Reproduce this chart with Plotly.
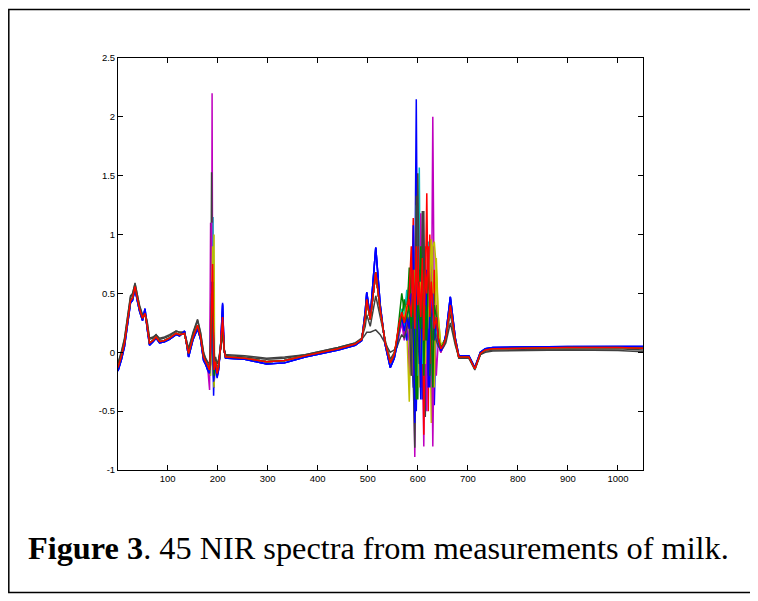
import plotly.graph_objects as go

# ---------------- data ----------------
X_LEFT = [1, 5, 8, 14, 20, 26, 30, 35, 39, 44, 50, 55, 59, 64, 71, 77, 84, 94,
          104, 117, 124, 134, 142, 151, 160, 166, 172]
LEFT = {
    "M": [-0.13, -0.08, -0.03, 0.08, 0.25, 0.44, 0.46, 0.56, 0.47, 0.37, 0.29, 0.33, 0.23,
          0.08, 0.10, 0.13, 0.09, 0.10, 0.12, 0.16, 0.15, 0.16, -0.01, 0.13, 0.23, 0.13, -0.04],
    "L": [-0.16, -0.11, -0.06, 0.05, 0.22, 0.42, 0.44, 0.54, 0.45, 0.35, 0.27, 0.37, 0.21,
          0.06, 0.09, 0.12, 0.08, 0.09, 0.11, 0.15, 0.14, 0.18, -0.04, 0.11, 0.20, 0.11, -0.07],
    "H": [-0.10, -0.05, 0.00, 0.11, 0.28, 0.47, 0.49, 0.59, 0.50, 0.39, 0.31, 0.33, 0.26,
          0.11, 0.12, 0.15, 0.11, 0.12, 0.14, 0.18, 0.17, 0.17, 0.02, 0.16, 0.27, 0.16, -0.01],
    "O": [-0.09, -0.04, 0.01, 0.12, 0.29, 0.48, 0.50, 0.58, 0.50, 0.40, 0.32, 0.33, 0.27,
          0.12, 0.13, 0.15, 0.12, 0.13, 0.15, 0.18, 0.17, 0.17, 0.03, 0.17, 0.28, 0.17, 0.00],
}

X_SPIKE1 = [176, 180, 184, 186, 188, 189, 190, 191, 192, 193, 194, 196, 199, 202, 206, 210, 213, 216]

X_MID = [220, 254, 298, 334, 375, 408, 441, 475, 488, 495, 498, 505, 516, 525, 535, 545, 553]
MID = {
    "M": [-0.04, -0.05, -0.08, -0.07, -0.03, 0.00, 0.03, 0.07, 0.11, 0.30, 0.45, 0.28, 0.68, 0.36, 0.08, -0.09, -0.02],
    "L": [-0.05, -0.06, -0.10, -0.09, -0.04, -0.01, 0.02, 0.06, 0.10, 0.35, 0.51, 0.30, 0.89, 0.40, 0.06, -0.13, -0.05],
    "H": [-0.03, -0.04, -0.06, -0.05, -0.02, 0.01, 0.04, 0.08, 0.12, 0.22, 0.32, 0.22, 0.48, 0.30, 0.10, -0.06, 0.00],
    "O": [-0.02, -0.03, -0.05, -0.04, -0.02, 0.01, 0.04, 0.08, 0.11, 0.15, 0.17, 0.17, 0.19, 0.15, 0.08, 0.00, 0.02],
}

X_SPIKE2 = [558, 563, 568, 573, 578, 583, 587, 591, 594, 597, 600, 603, 606, 609,
            612, 615, 618, 621, 624, 627, 630, 633, 637, 641, 646, 651, 656]

X_RIGHT = [665, 675, 682, 702, 714, 725, 735, 750, 800, 900, 1000, 1050]
RIGHT = {
    "M": [0.40, 0.10, -0.04, -0.04, -0.14, -0.01, 0.02, 0.030, 0.035, 0.040, 0.040, 0.035],
    "L": [0.47, 0.12, -0.03, -0.03, -0.13, 0.00, 0.03, 0.040, 0.045, 0.050, 0.050, 0.050],
    "H": [0.33, 0.08, -0.05, -0.05, -0.15, -0.02, 0.01, 0.020, 0.025, 0.030, 0.030, 0.020],
    "O": [0.25, 0.06, -0.04, -0.05, -0.13, -0.02, 0.00, 0.010, 0.015, 0.020, 0.015, 0.005],
}

SPECTRUM_COLORS = ["#0000FF", "#008000", "#FF0000", "#00BFBF", "#BF00BF", "#BFBF00", "#404040"]

SPECTRUM_VARIANT = ["L", "M", "M", "M", "M", "M", "H", "L", "M", "M", "M", "M", "M", "O", "L", "M", "M"]

SPIKE1 = [
    [-0.10, -0.15, -0.20, -0.10, 0.20, 0.40, 0.30, 0.10, -0.37, -0.20, -0.15, -0.10, -0.22, -0.15, 0.05, 0.42, 0.02, -0.05],
    [-0.08, -0.12, -0.15, 0.10, 0.30, 0.20, 0.50, 0.30, -0.10, -0.15, -0.10, -0.08, -0.17, -0.12, 0.04, 0.25, 0.02, -0.04],
    [-0.08, -0.12, -0.10, 0.20, 0.50, 0.75, 0.40, 0.20, -0.20, -0.10, -0.12, -0.08, -0.18, -0.12, 0.05, 0.30, 0.02, -0.04],
    [-0.08, -0.10, -0.15, 0.00, 0.30, 0.60, 0.50, 1.15, 0.30, -0.25, -0.10, -0.08, -0.17, -0.12, 0.04, 0.25, 0.02, -0.04],
    [-0.08, -0.12, -0.32, 1.10, 0.20, 2.20, 0.60, 0.40, -0.10, -0.20, -0.10, -0.08, -0.17, -0.12, 0.04, 0.22, 0.02, -0.04],
    [-0.08, -0.12, -0.15, 0.00, 0.20, 0.40, 0.50, 0.30, 0.90, 1.00, -0.20, -0.08, -0.17, -0.12, 0.04, 0.24, 0.02, -0.04],
    [-0.06, -0.10, -0.12, 0.00, 1.53, 0.40, 0.30, 0.20, -0.10, -0.15, -0.10, -0.06, -0.14, -0.10, 0.06, 0.22, 0.03, -0.03],
    [-0.10, -0.14, -0.18, -0.05, 0.30, 0.50, 0.20, 0.40, -0.20, -0.30, -0.15, -0.10, -0.20, -0.14, 0.05, 0.40, 0.02, -0.05],
    [-0.08, -0.12, -0.15, -0.10, 0.10, 0.30, 0.20, 0.60, -0.20, -0.28, -0.15, -0.08, -0.17, -0.12, 0.04, 0.25, 0.02, -0.04],
    [-0.08, -0.12, -0.15, 0.10, 0.60, 0.40, 0.70, 0.30, 0.00, -0.20, -0.12, -0.08, -0.18, -0.12, 0.05, 0.30, 0.02, -0.04],
    [-0.08, -0.12, -0.15, 0.20, 0.50, 1.10, 0.30, 0.20, -0.05, -0.15, -0.10, -0.08, -0.17, -0.12, 0.04, 0.25, 0.02, -0.04],
    [-0.08, -0.12, -0.15, 0.30, 1.10, 0.20, 0.50, 0.30, -0.20, -0.25, -0.10, -0.08, -0.17, -0.12, 0.04, 0.22, 0.02, -0.04],
    [-0.08, -0.12, -0.15, -0.20, 0.30, 0.60, 0.90, 0.50, 0.10, -0.30, -0.10, -0.08, -0.17, -0.12, 0.04, 0.24, 0.02, -0.04],
    [-0.05, -0.08, -0.10, 0.00, 0.20, 0.40, 0.30, 0.20, 0.00, -0.05, -0.06, -0.04, -0.10, -0.06, 0.05, 0.15, 0.03, -0.02],
    [-0.10, -0.15, -0.18, 0.00, 0.40, 0.60, 0.30, 0.20, -0.25, -0.20, -0.15, -0.10, -0.21, -0.15, 0.05, 0.41, 0.02, -0.05],
    [-0.08, -0.12, -0.15, 0.10, 0.50, 0.30, 0.60, 0.20, -0.15, -0.20, -0.10, -0.08, -0.17, -0.12, 0.04, 0.25, 0.02, -0.04],
    [-0.08, -0.12, -0.15, 0.05, 0.40, 0.60, 0.75, 0.35, -0.05, -0.15, -0.12, -0.08, -0.18, -0.12, 0.05, 0.30, 0.02, -0.04],
]

SPIKE2 = [
    [0.05, 0.20, 0.30, 0.15, 0.25, 0.40, 0.10, -0.30, 0.50, 2.15, 0.20, -0.20, 0.40, 0.10, -0.40, 0.30, 0.60, 0.10, -0.20, 0.50, 0.20, -0.45, 0.30, 0.10, 0.00, 0.05, 0.15],
    [0.10, 0.30, 0.50, 0.35, 0.47, 0.30, 0.74, 0.10, -0.30, 0.60, 0.20, 0.50, -0.20, 0.40, 0.10, -0.30, 0.50, 0.20, 0.96, 0.00, 0.30, -0.20, 0.40, 0.20, 0.05, 0.08, 0.12],
    [0.12, 0.25, 0.35, 0.20, 0.40, 0.60, 0.30, 1.14, -0.40, 0.50, 0.80, 0.10, 0.60, -0.30, 0.40, 0.90, 0.20, -0.50, 1.00, 0.30, -0.20, 0.50, 0.20, 0.10, 0.00, 0.06, 0.12],
    [0.08, 0.20, 0.37, 0.30, 0.53, 0.10, -0.20, 0.40, 0.20, 0.70, 0.30, 1.57, -0.10, 0.30, 0.60, 0.10, 0.30, 0.94, 0.20, -0.10, 0.40, 0.10, 0.30, 0.15, 0.02, 0.07, 0.13],
    [0.05, 0.15, 0.25, 0.10, 0.30, -0.20, 0.40, 0.20, -0.89, 0.30, 0.50, 0.20, 1.18, 0.10, -0.80, 0.40, 0.20, -0.30, 0.60, 0.10, 2.00, 0.30, -0.20, 0.10, 0.00, 0.05, 0.10],
    [0.10, 0.22, 0.30, 0.25, 0.20, -0.42, 0.30, 0.50, 0.20, -0.30, 0.60, 0.30, 0.10, 0.70, 0.20, 0.40, -0.20, 0.50, 0.30, -0.60, 0.90, 0.94, 0.71, 0.30, 0.05, 0.08, 0.12],
    [0.08, 0.20, 0.28, 0.22, 0.30, 0.20, 0.50, -0.30, -0.81, 0.40, 1.52, 0.30, -0.20, 1.20, 0.40, -0.55, 0.30, 0.10, 0.50, 0.20, -0.10, 0.30, 0.20, 0.10, 0.03, 0.07, 0.12],
    [0.06, 0.22, 0.33, 0.20, 0.10, 0.50, -0.10, 1.08, 0.30, -0.50, 0.40, 0.70, 0.20, -0.40, 0.30, 0.80, 0.10, 0.40, -0.30, 0.60, -0.45, 0.20, 0.40, 0.10, 0.02, 0.06, 0.14],
    [0.10, 0.25, 0.30, 0.45, 0.30, 0.72, 0.20, -0.20, 0.60, 0.30, -0.40, 0.50, 0.90, 0.20, -0.30, 0.70, 0.40, 0.10, -0.20, 0.50, 0.30, 0.60, 0.20, 0.10, 0.04, 0.07, 0.12],
    [0.10, 0.24, 0.32, 0.28, 0.35, 0.50, 0.90, 0.20, 0.60, -0.20, 0.90, 0.40, -0.30, 0.70, -0.70, 0.50, 1.35, 0.30, 0.60, -0.10, 0.40, 0.70, 0.30, 0.12, 0.03, 0.06, 0.12],
    [0.07, 0.18, 0.30, 0.20, 0.35, 0.30, 0.40, 0.60, 0.10, 1.25, -0.20, 0.30, 0.50, -0.10, 0.20, 0.40, -0.30, 0.60, 0.20, 0.40, 0.10, 0.30, 0.20, 0.10, 0.02, 0.06, 0.12],
    [0.06, 0.16, 0.28, 0.15, 0.25, 0.10, 0.50, -0.20, 0.30, 0.70, 0.20, 0.40, -0.30, 0.50, 0.60, 0.30, -0.50, 0.40, 0.20, 0.50, -0.80, 0.20, 0.30, 0.10, 0.02, 0.05, 0.11],
    [0.10, 0.20, 0.33, 0.30, 0.40, 0.20, -0.20, 0.40, 0.70, 0.20, 0.50, -0.30, 0.60, 0.30, 0.80, -0.10, 0.50, 0.20, 0.70, 0.96, 0.50, -0.30, 0.80, 0.30, 0.06, 0.08, 0.12],
    [0.04, 0.10, 0.15, 0.12, 0.20, 0.30, -0.20, 0.60, 0.30, 1.33, 0.20, -0.10, 0.40, 0.20, 1.20, 0.10, 0.30, -0.20, 0.20, 0.30, 0.10, 0.20, 0.10, 0.05, 0.02, 0.04, 0.08],
    [0.05, 0.20, 0.30, 0.18, 0.30, 0.20, 0.50, 0.30, -0.60, 0.40, 0.60, 0.20, -0.40, 0.50, 0.30, 0.20, 0.70, -0.30, 0.40, 0.20, 0.50, 0.10, 0.30, 0.10, 0.01, 0.06, 0.15],
    [0.09, 0.22, 0.32, 0.25, 0.30, 0.40, 0.20, 0.50, 0.10, -0.40, 0.60, 0.30, 0.20, 0.80, -0.20, 0.40, 0.10, 0.70, 0.50, 0.20, -0.30, 0.40, 0.30, 0.12, 0.04, 0.07, 0.12],
    [0.11, 0.25, 0.34, 0.25, 0.38, 0.45, 0.30, 0.70, 0.20, 0.90, 0.40, 0.60, 0.30, 0.80, 0.10, 0.70, 0.50, 0.90, 0.30, 0.60, 0.40, 0.20, 0.30, 0.12, 0.03, 0.06, 0.12],
]

X_TICKS = [100, 200, 300, 400, 500, 600, 700, 800, 900, 1000]
Y_TICKS = [-1, -0.5, 0, 0.5, 1, 1.5, 2, 2.5]
Y_TICK_TEXT = ["-1", "-0.5", "0", "0.5", "1", "1.5", "2", "2.5"]
CAPTION = "<b>Figure 3</b>. 45 NIR spectra from measurements of milk."

# ---------------- figure ----------------
# The page body has an 8px margin, so the figure is drawn 8px smaller and all
# pixel positions are given relative to that shifted origin.
OFF = 8
W, H = 758 - OFF, 601 - OFF
PL, PR, PT, PB = 118 - OFF, 643 - OFF, 58 - OFF, 470 - OFF  # plot-area pixel box

fig = go.Figure()
x_all = X_LEFT + X_SPIKE1 + X_MID + X_SPIKE2 + X_RIGHT
for i, variant in enumerate(SPECTRUM_VARIANT):
    y_all = LEFT[variant] + SPIKE1[i] + MID[variant] + SPIKE2[i] + RIGHT[variant]
    fig.add_trace(go.Scatter(
        x=x_all, y=y_all, mode="lines",
        line=dict(color=SPECTRUM_COLORS[i % len(SPECTRUM_COLORS)], width=1.5),
        hoverinfo="skip", showlegend=False,
    ))

axis_common = dict(
    showgrid=False, zeroline=False, showline=True, linecolor="black", linewidth=1,
    mirror="ticks", ticks="inside", ticklen=5, tickcolor="black", tickwidth=1,
    tickfont=dict(family="Liberation Sans, Arial, sans-serif", size=9.5, color="black"),
)
fig.update_xaxes(range=[1, 1050], tickvals=X_TICKS, **axis_common)
fig.update_yaxes(range=[-1, 2.5], tickvals=Y_TICKS, ticktext=Y_TICK_TEXT, **axis_common)

pw, ph = PR - PL, PB - PT
def px(xp):
    return (xp - OFF - PL) / pw
def py(yp):
    return (PB - (yp - OFF)) / ph

fig.add_shape(type="rect", xref="paper", yref="paper",
              x0=px(8.8), x1=px(751.5), y0=py(592.5), y1=py(9.5),
              line=dict(color="black", width=1.5), fillcolor="rgba(0,0,0,0)", layer="below")

fig.add_annotation(text=CAPTION, xref="paper", yref="paper",
                   x=px(378), y=py(548), xanchor="center", yanchor="middle",
                   showarrow=False,
                   font=dict(family="Liberation Serif, Times New Roman, serif", size=32.3, color="black"))

fig.update_layout(
    width=W, height=H,
    margin=dict(l=PL, r=W - PR, t=PT, b=H - PB),
    paper_bgcolor="white", plot_bgcolor="white",
    showlegend=False,
)

fig.write_html("out.html")
